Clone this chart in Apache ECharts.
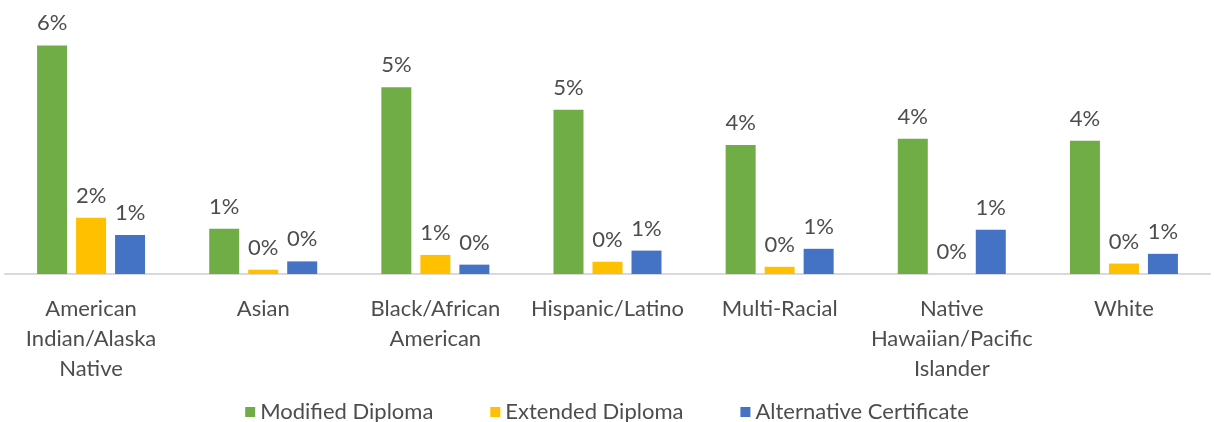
<!DOCTYPE html>
<html>
<head>
<meta charset="utf-8">
<script src="https://cdn.jsdelivr.net/npm/echarts@6/dist/echarts.min.js"></script>
<style>
    html, body { margin: 0; padding: 0; background: #fff; }
    #chart { width: 1214px; height: 422px; }
</style>
</head>
<body>
<div id="chart"></div>
<script>
// 分类与数值（百分比，按柱高估读）
const categories = ['American Indian/Alaska Native', 'Asian', 'Black/African American',
    'Hispanic/Latino', 'Multi-Racial', 'Native Hawaiian/Pacific Islander', 'White'];
const tickLabels = ['American\nIndian/Alaska\nNative', 'Asian', 'Black/African\nAmerican',
    'Hispanic/Latino', 'Multi-Racial', 'Native\nHawaiian/Pacific\nIslander', 'White'];
const modifiedDiploma = [6.35, 1.26, 5.19, 4.56, 3.58, 3.76, 3.70];
const extendedDiploma = [1.56, 0.12, 0.53, 0.34, 0.20, 0, 0.29];
const alternativeCert = [1.08, 0.35, 0.26, 0.65, 0.70, 1.23, 0.56];

const FONT = 'Lato';
const TEXT = '#4d4d4d';

function makeSeries(name, data, color) {
    return {
        name: name,
        type: 'bar',
        data: data,
        barWidth: 30,
        barGap: '30%',
        itemStyle: { color: color },
        label: {
            show: true,
            position: 'top',
            distance: 11,
            color: TEXT,
            fontFamily: FONT,
            fontSize: 22,
            formatter: p => Math.round(p.value) + '%'
        }
    };
}

const chart = echarts.init(document.getElementById('chart'));
chart.setOption({
    animation: false,
    grid: { left: 5, right: 4, top: 22, bottom: 148 },
    legend: {
        top: 396,
        left: 'center',
        icon: 'rect',
        itemWidth: 10,
        itemHeight: 10,
        itemGap: 57,
        textStyle: { color: TEXT, fontFamily: FONT, fontSize: 22 },
        data: ['Modified Diploma', 'Extended Diploma', 'Alternative Certificate']
    },
    xAxis: {
        type: 'category',
        data: categories,
        axisLine: { lineStyle: { color: '#D9D9D9', width: 2 } },
        axisTick: { show: false },
        axisLabel: {
            interval: 0,
            margin: 20,
            color: TEXT,
            fontFamily: FONT,
            fontSize: 22,
            lineHeight: 30,
            formatter: (v, i) => tickLabels[i]
        }
    },
    yAxis: {
        type: 'value',
        min: 0,
        max: 7,
        show: false,
        splitLine: { show: false }
    },
    series: [
        makeSeries('Modified Diploma', modifiedDiploma, '#70AD47'),
        makeSeries('Extended Diploma', extendedDiploma, '#FFC000'),
        makeSeries('Alternative Certificate', alternativeCert, '#4472C4')
    ]
});
</script>
</body>
</html>
